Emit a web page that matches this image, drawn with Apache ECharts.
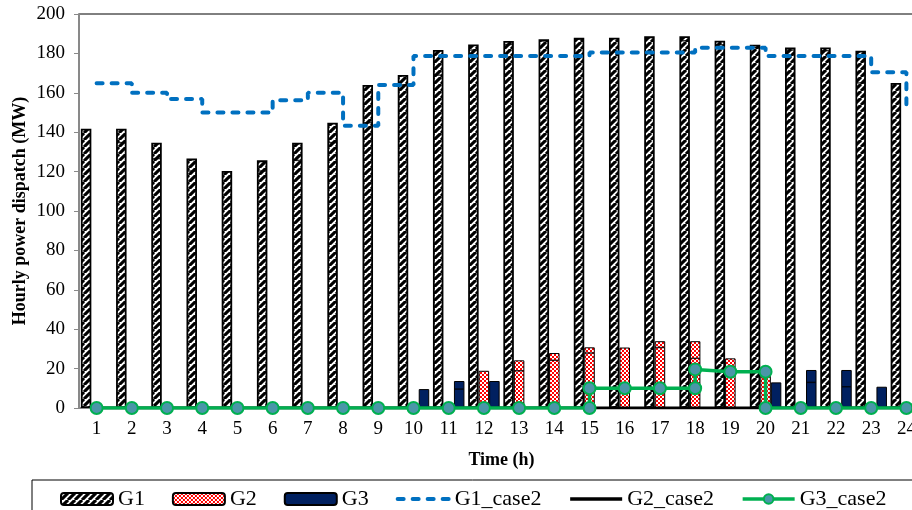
<!DOCTYPE html>
<html>
<head>
<meta charset="utf-8">
<title>Hourly power dispatch</title>
<script src="https://cdn.jsdelivr.net/npm/echarts@6/dist/echarts.min.js"></script>
<style>
  html, body { margin: 0; padding: 0; background: #fff; }
  #chart { width: 912px; height: 510px; }
</style>
</head>
<body>
<div id="chart"></div>
<script>
  const hours = ['1', '2', '3', '4', '5', '6', '7', '8', '9', '10', '11', '12',
    '13', '14', '15', '16', '17', '18', '19', '20', '21', '22', '23', '24']

  // bars (MW)
  const g1 = [141.8, 141.8, 134.7, 126.6, 120.3, 125.7, 134.7, 144.8, 164.0, 169.0, 181.7, 184.5,
    186.3, 187.2, 188.0, 188.0, 188.7, 188.7, 186.4, 184.4, 183.0, 183.0, 181.4, 165.0]
  const g2 = [0, 0, 0, 0, 0, 0, 0, 0, 0, 0, 0, 18.9,
    24.2, 27.9, 30.8, 30.7, 33.9, 33.9, 25.2, 19.0, 0, 0, 0, 0]
  const g3 = [0, 0, 0, 0, 0, 0, 0, 0, 0, 9.6, 13.7, 13.7,
    0, 0, 0, 0, 0, 0, 0, 13.0, 19.3, 19.3, 10.8, 0]

  // the thin inner lines seen inside the bars
  const g1Inner = [null, 134.7, 126.6, 120.3, null, 120.3, 125.7, 134.7, 144.8, 164.0, 169.0, 181.7,
    184.5, 186.3, 187.2, null, 188.0, 186.4, 184.4, 183.0, 181.7, 181.4, 165.0, null]
  const g2Inner = [null, null, null, null, null, null, null, null, null, null, null, null,
    18.9, 24.2, 27.9, null, 30.7, 25.2, null, null, null, null, null, null]
  const g3Inner = [null, null, null, null, null, null, null, null, null, null, 9.6, null,
    null, null, null, null, null, null, null, null, 13.0, 10.8, null, null]

  // case 2 lines
  const g1Case2 = [164.8, 160.0, 156.9, 150.0, 150.0, 156.2, 160.0, 143.3, 164.0, 178.7, 178.7, 178.7,
    178.7, 178.7, 180.4, 180.4, 180.4, 182.9, 182.9, 178.7, 178.7, 178.7, 170.4, 152.8]
  const g2Case2 = [0, 0, 0, 0, 0, 0, 0, 0, 0, 0, 0, 0,
    0, 0, 0, 0, 0, 0, 0, 0, 0, 0, 0, 0]
  const g3Case2Hours = [1, 2, 3, 4, 5, 6, 7, 8, 9, 10, 11, 12, 13, 14,
    15, 15, 16, 17, 18, 18, 19, 20, 20, 21, 22, 23, 24]
  const g3Case2 = [0, 0, 0, 0, 0, 0, 0, 0, 0, 0, 0, 0, 0, 0,
    0, 10.0, 10.0, 10.0, 10.0, 19.6, 18.4, 18.4, 0, 0, 0, 0, 0]

  const font = 'Liberation Serif'

  function hatchPattern () {
    const c = document.createElement('canvas')
    c.width = 7
    c.height = 7
    const ctx = c.getContext('2d')
    ctx.fillStyle = '#fff'
    ctx.fillRect(0, 0, 7, 7)
    ctx.strokeStyle = '#000'
    ctx.lineWidth = 3.1
    for (const k of [-7, 0, 7]) {
      ctx.beginPath()
      ctx.moveTo(k, 7)
      ctx.lineTo(k + 7, 0)
      ctx.stroke()
    }
    return c
  }

  function checkerPattern () {
    const c = document.createElement('canvas')
    c.width = 4
    c.height = 4
    const ctx = c.getContext('2d')
    ctx.fillStyle = '#fff'
    ctx.fillRect(0, 0, 4, 4)
    ctx.fillStyle = '#ff0000'
    ctx.fillRect(0, 0, 2, 2)
    ctx.fillRect(2, 2, 2, 2)
    return c
  }

  const blank = v => (v === null ? '-' : v)

  function innerLine (name, values, offset) {
    return {
      name: name,
      type: 'scatter',
      symbol: 'rect',
      symbolSize: [9, 1.5],
      symbolOffset: [offset, 0],
      itemStyle: { color: '#000' },
      silent: true,
      data: values.map(blank)
    }
  }

  const noMarker = { color: 'transparent', borderColor: 'transparent', borderWidth: 0 }

  const chart = echarts.init(document.getElementById('chart'))

  const option = {
    animation: false,
    grid: {
      left: 79,
      top: 14,
      width: 845,
      height: 394,
      outerBoundsMode: 'none',
      show: true,
      borderColor: '#000',
      borderWidth: 1
    },
    legend: {
      left: 32,
      top: 480,
      width: 1000,
      padding: [8, 28, 12, 28],
      itemGap: 27,
      itemWidth: 52,
      itemHeight: 12,
      borderColor: '#000',
      borderWidth: 1,
      textStyle: { fontFamily: font, fontSize: 22, color: '#000' },
      data: [
        'G1', 'G2', 'G3',
        { name: 'G1_case2', itemStyle: noMarker, lineStyle: { width: 4 } },
        { name: 'G2_case2', itemStyle: noMarker, lineStyle: { width: 3.5 } },
        { name: 'G3_case2', lineStyle: { width: 3.5 } }
      ]
    },
    xAxis: [
      {
        type: 'category',
        data: hours,
        axisLine: { lineStyle: { color: '#898989', width: 2 } },
        axisTick: { show: false },
        axisLabel: { margin: 12, fontFamily: font, fontSize: 19, color: '#000' },
        name: 'Time (h)',
        nameLocation: 'middle',
        nameGap: 43,
        nameTextStyle: { fontFamily: font, fontSize: 18, fontWeight: 'bold', color: '#000' }
      },
      {
        type: 'value',
        min: 0.5,
        max: 24.5,
        show: false
      }
    ],
    yAxis: {
      type: 'value',
      min: 0,
      max: 200,
      interval: 20,
      splitLine: { show: false },
      axisLine: { show: true, lineStyle: { color: '#898989', width: 2 } },
      axisTick: { show: true, length: 5, lineStyle: { color: '#898989' } },
      axisLabel: { margin: 14, fontFamily: font, fontSize: 19, color: '#000' },
      name: 'Hourly power dispatch (MW)',
      nameLocation: 'middle',
      nameGap: 50,
      nameMoveOverlap: false,
      nameTextStyle: { fontFamily: font, fontSize: 18, fontWeight: 'bold', color: '#000' }
    },
    series: [
      {
        name: 'G1',
        type: 'bar',
        barWidth: 10.5,
        barGap: '0%',
        itemStyle: { color: { image: hatchPattern(), repeat: 'repeat' }, borderColor: '#000', borderWidth: 1.8 },
        data: g1
      },
      {
        name: 'G2',
        type: 'bar',
        barWidth: 10.5,
        itemStyle: { color: { image: checkerPattern(), repeat: 'repeat' }, borderColor: '#000', borderWidth: 1 },
        data: g2.map(v => (v === 0 ? '-' : v))
      },
      {
        name: 'G3',
        type: 'bar',
        barWidth: 10.5,
        itemStyle: { color: '#002060', borderColor: '#000', borderWidth: 1 },
        data: g3.map(v => (v === 0 ? '-' : v))
      },
      innerLine('g1-inner', g1Inner, -10.5),
      innerLine('g2-inner', g2Inner, 0),
      innerLine('g3-inner', g3Inner, 10.5),
      {
        name: 'G1_case2',
        type: 'line',
        xAxisIndex: 1,
        step: 'end',
        symbol: 'none',
        lineStyle: { color: '#0070C0', width: 4, type: [6, 9], cap: 'round' },
        itemStyle: { color: '#0070C0' },
        data: g1Case2.map((v, i) => [i + 1, v])
      },
      {
        name: 'G2_case2',
        type: 'line',
        xAxisIndex: 1,
        symbol: 'none',
        lineStyle: { color: '#000', width: 3 },
        itemStyle: { color: '#000' },
        data: g2Case2.map((v, i) => [i + 1, v])
      },
      {
        name: 'G3_case2',
        type: 'line',
        xAxisIndex: 1,
        symbol: 'circle',
        symbolSize: 12,
        lineStyle: { color: '#00B050', width: 3.5 },
        itemStyle: { color: '#4A96A8', borderColor: '#00B050', borderWidth: 2 },
        data: g3Case2.map((v, i) => [g3Case2Hours[i], v])
      }
    ]
  }

  chart.setOption(option)
</script>
</body>
</html>
